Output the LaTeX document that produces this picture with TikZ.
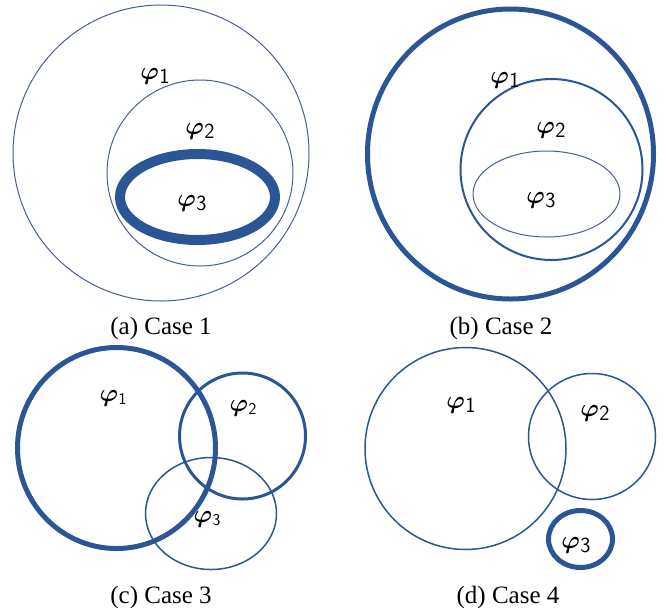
\documentclass[tikz,border=0pt]{standalone}
\usepackage{amsmath}
\usepackage{fontspec}
\setmainfont{Liberation Serif}
\usetikzlibrary{positioning}
\definecolor{setCol}{RGB}{42,86,150}
\definecolor{thinCol}{RGB}{70,96,150}
\newcommand{\phin}[1]{$\boldsymbol{\varphi}$\kern0.5pt\raisebox{-0.32ex}{\scalebox{0.72}{\sffamily #1}}}
\tikzset{
  setline/.style={draw=setCol},
  thinset/.style={draw=thinCol,line width=1pt},
  lab/.style={font=\fontsize{30}{34}\selectfont,inner sep=0pt},
  smlab/.style={lab,font=\fontsize{23}{26}\selectfont},
  capt/.style={font=\fontsize{25}{28}\selectfont,inner sep=0pt},
}

\begin{document}
\begin{tikzpicture}[x=1pt,y=-1pt]
  \useasboundingbox (0,0) rectangle (666,614);
  % (a) Case 1
  \draw[thinset] (161,153) ellipse [x radius=148pt,y radius=148pt];
  \draw[thinset] (200,173) ellipse [x radius=93pt,y radius=93pt];
  \draw[setline,line width=10pt] (197.5,197) ellipse [x radius=77.5pt,y radius=43pt];
  \node[lab] (a1) at (155,76) {\phin{1}};
  \node[lab] (a2) at (200,131) {\phin{2}};
  \node[lab] (a3) at (192,203) {\phin{3}};
  \node[capt] (ca) at (161,328) {(a) Case 1};
  % (b) Case 2
  \draw[setline,line width=5pt] (510.5,154) ellipse [x radius=143pt,y radius=145pt];
  \draw[setline,line width=2pt] (551.5,169.5) ellipse [x radius=91pt,y radius=90.5pt];
  \draw[thinset] (546.5,194) ellipse [x radius=73.5pt,y radius=43pt];
  \node[lab] (b1) at (505,80) {\phin{1}};
  \node[lab] (b2) at (551,130) {\phin{2}};
  \node[lab] (b3) at (541,200) {\phin{3}};
  \node[capt] (cb) at (501,328) {(b) Case 2};
  % (c) Case 3
  \draw[setline,line width=5pt] (116.5,448) ellipse [x radius=99pt,y radius=100.5pt];
  \draw[setline,line width=3pt] (242.5,436) ellipse [x radius=63pt,y radius=63pt];
  \draw[setline,line width=1.5pt] (211,513.5) ellipse [x radius=65.5pt,y radius=56pt];
  \node[smlab] (c1) at (113,398) {\phin{1}};
  \node[smlab] (c2) at (243,408) {\phin{2}};
  \node[smlab] (c3) at (207,519) {\phin{3}};
  \node[capt] (cc) at (161,597) {(c) Case 3};
  % (d) Case 4
  \draw[setline,line width=1.5pt] (465.5,448.5) ellipse [x radius=100.5pt,y radius=101pt];
  \draw[setline,line width=1.5pt] (592,436.5) ellipse [x radius=63.5pt,y radius=63pt];
  \draw[setline,line width=5pt] (580.5,539) ellipse [x radius=32pt,y radius=28.5pt];
  \node[lab] (d1) at (461,405) {\phin{1}};
  \node[lab] (d2) at (595,413) {\phin{2}};
  \node[lab] (d3) at (576,545) {\phin{3}};
  \node[capt] (cd) at (508,597) {(d) Case 4};
\end{tikzpicture}
\end{document}
